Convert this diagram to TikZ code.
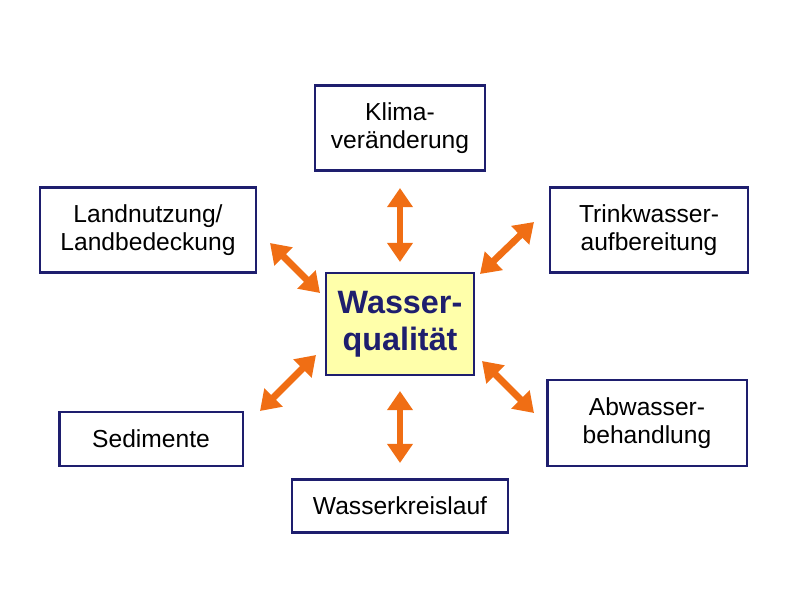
\documentclass[tikz,border=0pt]{standalone}
\usepackage{fontspec}
\setmainfont{Liberation Sans}
\usetikzlibrary{arrows.meta}
\definecolor{boxblue}{RGB}{30,30,110}
\definecolor{arroworange}{RGB}{240,110,20}
\definecolor{coreyellow}{RGB}{255,255,170}
\tikzset{
  topic/.style={draw=boxblue, line width=1.6pt, rectangle, align=center, inner sep=0pt, font=\fontsize{17.5}{19.5}\selectfont},
  link/.style={draw=arroworange, line width=0.17cm, {Triangle[length=0.48cm,width=0.62cm]}-{Triangle[length=0.48cm,width=0.62cm]}}
}
\begin{document}
\begin{tikzpicture}[x=0.025cm, y=-0.025cm]
    \useasboundingbox (0,0) rectangle (800,600);
    \node (core) [topic, fill=coreyellow, text=boxblue, minimum width=3.7cm, minimum height=2.55cm, font=\bfseries\fontsize{23}{26}\selectfont] at (400,324) {Wasser-\\qualität};
    \node (klima) [topic, minimum width=4.25cm, minimum height=2.12cm] at (400,128) {Klima-\\veränderung};
    \node (land) [topic, minimum width=5.4cm, minimum height=2.12cm] at (148,230) {Landnutzung/\\Landbedeckung};
    \node (trink) [topic, minimum width=4.95cm, minimum height=2.12cm] at (649,230) {Trinkwasser-\\aufbereitung};
    \node (sed) [topic, minimum width=4.58cm, minimum height=1.35cm] at (151,439) {Sedimente};
    \node (abw) [topic, minimum width=4.98cm, minimum height=2.15cm] at (647,423) {Abwasser-\\behandlung};
    \node (kreis) [topic, minimum width=5.4cm, minimum height=1.32cm] at (400,506) {Wasserkreislauf};

    % arrow ends between the boxes
    \coordinate (k1) at (400,188); \coordinate (k2) at (400,262);
    \coordinate (l1) at (270,243); \coordinate (l2) at (320,293);
    \coordinate (t1) at (534,222); \coordinate (t2) at (480,274);
    \coordinate (s1) at (316,355); \coordinate (s2) at (260,411);
    \coordinate (a1) at (482,361); \coordinate (a2) at (534,413);
    \coordinate (w1) at (400,391); \coordinate (w2) at (400,463);

    \foreach \a/\b in {k1/k2, l1/l2, t1/t2, s1/s2, a1/a2, w1/w2}
        \draw[link] (\a) -- (\b);
\end{tikzpicture}
\end{document}
